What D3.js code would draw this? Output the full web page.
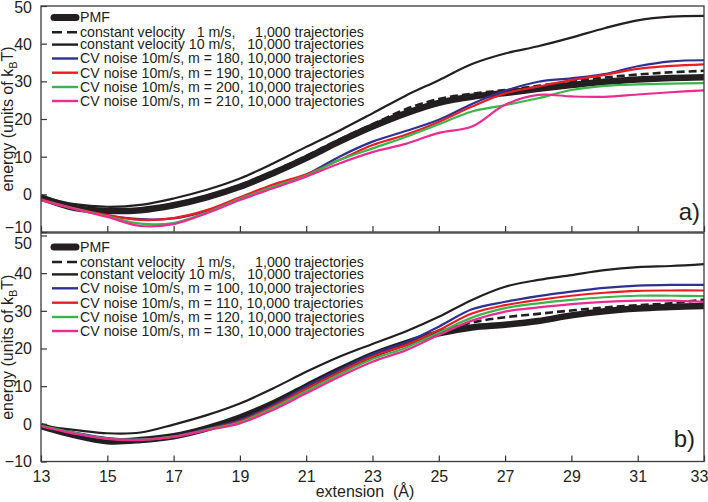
<!DOCTYPE html>
<html>
<head>
<meta charset="utf-8">
<script src="https://cdn.jsdelivr.net/npm/d3@7"></script>
<style>
  html, body { margin: 0; padding: 0; background: #fff; }
  svg { display: block; }
  text { font-family: "Liberation Sans", Arial, sans-serif; fill: #231f20; }
  .leg { white-space: pre; }
</style>
</head>
<body>
<svg id="chart" width="708" height="502"></svg>
<script>
// ---------------- data ----------------
const extension = [13,14,15,16,17,18,19,20,21,22,23,24,25,26,27,28,29,30,31,32,33];
const xTickValues = [13,15,17,19,21,23,25,27,29,31,33];
const yTickValues = [-10,0,10,20,30,40,50];

// panel a)
const pmfA     = [-0.8,-3.6,-4.4,-4.2,-2.9,-0.8,2.0,5.6,9.6,14.0,18.0,21.5,24.3,25.9,26.9,28.0,29.0,29.9,30.5,30.9,31.1];
const cv1A     = [-0.8,-3.4,-4.1,-3.9,-2.5,-0.4,2.5,6.1,10.2,14.6,18.6,22.6,25.3,26.7,27.7,28.8,30.0,31.0,31.8,32.4,32.8];
const cv10A    = [-0.6,-2.6,-3.3,-2.8,-1.1,1.2,4.2,8.2,12.6,16.9,21.5,26.2,30.3,34.6,37.4,39.3,41.6,44.1,46.2,47.2,47.4];
const noise180 = [-1.3,-3.7,-5.6,-6.6,-6.4,-4.4,-1.0,2.0,5.2,10.0,14.0,16.8,19.8,24.0,27.5,29.9,30.8,31.9,34.0,35.3,35.6];
const noise190 = [-1.3,-3.7,-5.5,-6.8,-6.3,-4.2,-0.8,2.6,5.3,9.1,13.1,15.8,19.2,23.3,26.8,28.6,30.3,31.7,33.3,34.1,34.5];
const noise200 = [-1.5,-3.8,-5.8,-7.8,-7.6,-4.8,-1.2,2.0,5.0,9.1,12.2,15.2,18.6,22.0,23.7,25.5,27.7,28.8,29.2,29.4,29.5];
const noise210 = [-1.6,-3.9,-6.0,-8.4,-7.9,-5.0,-1.5,1.6,4.7,8.2,11.2,13.4,16.3,18.0,23.8,26.4,26.0,25.9,26.5,27.1,27.6];

// panel b)
const pmfB     = [-0.6,-3.0,-4.6,-4.3,-3.3,-1.2,1.7,5.4,9.9,14.3,18.3,21.4,24.0,25.6,26.3,27.3,28.8,29.9,30.6,31.0,31.3];
const cv1B     = [-0.6,-2.8,-4.2,-4.0,-3.0,-0.9,1.9,5.6,10.1,14.5,18.5,21.6,24.4,26.9,28.3,29.2,30.1,30.9,31.5,32.0,33.0];
const cv10B    = [-0.6,-1.6,-2.5,-2.3,-0.2,2.3,5.4,9.4,13.8,17.8,21.2,24.5,28.4,32.9,36.4,38.2,39.5,40.8,41.6,41.9,42.4];
const noise100 = [-0.5,-2.3,-3.8,-4.1,-3.3,-1.3,1.0,5.0,9.9,14.3,18.5,21.6,25.8,30.4,32.4,33.9,35.1,36.1,36.7,36.9,36.9];
const noise110 = [-0.5,-2.4,-3.9,-4.2,-3.4,-1.5,0.7,4.6,9.3,13.7,17.9,20.9,24.9,29.3,31.5,32.9,34.0,34.8,35.3,35.4,35.4];
const noise120 = [-0.5,-2.4,-3.9,-4.2,-3.4,-1.6,0.4,4.2,8.7,13.1,17.2,20.2,24.2,28.2,30.7,32.0,32.9,33.6,34.0,34.0,33.9];
const noise130 = [-0.7,-2.6,-4.0,-4.3,-3.5,-1.7,0.1,3.7,8.1,12.5,16.5,19.5,23.6,27.4,29.8,30.9,31.8,32.4,32.7,32.7,32.4];

const legendA = ["PMF",
  "constant velocity   1 m/s,     1,000 trajectories",
  "constant velocity 10 m/s,   10,000 trajectories",
  "CV noise 10m/s, m = 180, 10,000 trajectories",
  "CV noise 10m/s, m = 190, 10,000 trajectories",
  "CV noise 10m/s, m = 200, 10,000 trajectories",
  "CV noise 10m/s, m = 210, 10,000 trajectories"];
const legendB = ["PMF",
  "constant velocity   1 m/s,     1,000 trajectories",
  "constant velocity 10 m/s,   10,000 trajectories",
  "CV noise 10m/s, m = 100, 10,000 trajectories",
  "CV noise 10m/s, m = 110, 10,000 trajectories",
  "CV noise 10m/s, m = 120, 10,000 trajectories",
  "CV noise 10m/s, m = 130, 10,000 trajectories"];

// ---------------- styles ----------------
const styles = [
  {color:"#231f20", width:6.5, dash:null},
  {color:"#231f20", width:2.6, dash:"8,4"},
  {color:"#231f20", width:2.2, dash:null},
  {color:"#2e3192", width:2.2, dash:null},
  {color:"#ed1c24", width:2.2, dash:null},
  {color:"#39b54a", width:2.2, dash:null},
  {color:"#ec2a90", width:2.2, dash:null}
];

const svg = d3.select("#chart");
const left = 41, right = 704;
const x = d3.scaleLinear().domain([13,33]).range([left,right]);

const panels = [
  {id:"a", series:[pmfA,cv1A,cv10A,noise180,noise190,noise200,noise210], legend:legendA,
   top:6, bottom:232, yr:[232,6], legY:[17.5,32.3,44.6,58.5,72.7,87,101],
   tag:"a)", tagX:700, tagY:220, labels:false, labelShift:{"-10":-5, "50":1}},
  {id:"b", series:[pmfB,cv1B,cv10B,noise100,noise110,noise120,noise130], legend:legendB,
   top:233, bottom:461.5, yr:[461.5,235.5], legY:[247,262,274.4,288.3,302.7,317,331],
   tag:"b)", tagX:695, tagY:447, labels:true, labelShift:{"50":8}}
];

panels.forEach(p => {
  const y = d3.scaleLinear().domain([-10,50]).range(p.yr);
  const g = svg.append("g");
  g.append("clipPath").attr("id","clip"+p.id)
    .append("rect").attr("x",left).attr("y",p.top).attr("width",right-left).attr("height",p.bottom-p.top);

  const line = d3.line().x((d,i)=>x(extension[i])).y(d=>y(d)).curve(d3.curveCatmullRom.alpha(0.5));
  const lg = g.append("g").attr("clip-path","url(#clip"+p.id+")");
  p.series.forEach((s,i) => {
    const st = styles[i];
    lg.append("path").datum(s).attr("d",line)
      .attr("fill","none").attr("stroke",st.color).attr("stroke-width",st.width)
      .attr("stroke-dasharray",st.dash).attr("stroke-linejoin","round");
  });

  // y axis ticks (inward) and labels
  const yAxis = d3.axisLeft(y).tickValues(yTickValues).tickSize(-6).tickPadding(9).tickFormat(d3.format("d"));
  const ya = g.append("g").attr("transform",`translate(${left},0)`).call(yAxis);
  ya.select(".domain").remove();
  ya.selectAll(".tick line").attr("stroke","#333").attr("stroke-width",1.2);
  ya.selectAll(".tick text").attr("font-size",16).attr("fill","#231f20")
    .attr("font-family","Liberation Sans, Arial, sans-serif")
    .attr("dy",d => (0.34*16 + (p.labelShift[String(d)]||0)) + "px");

  // x axis ticks (inward)
  const xAxis = d3.axisBottom(x).tickValues(xTickValues).tickSize(-6).tickPadding(9).tickFormat(d3.format("d"));
  const xa = g.append("g").attr("transform",`translate(0,${p.bottom})`).call(xAxis);
  xa.select(".domain").remove();
  xa.selectAll(".tick line").attr("stroke","#333").attr("stroke-width",1.2);
  xa.selectAll(".tick text").attr("font-size",16).attr("fill","#231f20")
    .attr("font-family","Liberation Sans, Arial, sans-serif")
    .attr("dx", d => d === 33 ? "-5px" : null)
    .style("display", p.labels ? null : "none");

  // frame
  g.append("rect").attr("x",left).attr("y",p.top).attr("width",right-left).attr("height",p.bottom-p.top)
    .attr("fill","none").attr("stroke","#3a3a3a").attr("stroke-width",1.3);

  // legend
  p.legend.forEach((t,i) => {
    const st = styles[i];
    const ly = p.legY[i];
    g.append("line").attr("x1", i===0?54:52).attr("x2", i===0?76:78).attr("y1",ly).attr("y2",ly)
      .attr("stroke",st.color).attr("stroke-width", i===0?7:(i===1?2.6:2.4))
      .attr("stroke-dasharray", i===1?"10,5":null)
      .attr("stroke-linecap", i===0?"round":"butt");
    g.append("text").attr("class","leg").attr("x",80).attr("y",ly+4.8)
      .attr("font-size",14.2).text(t);
  });

  // panel tag
  g.append("text").attr("x",p.tagX).attr("y",p.tagY).attr("text-anchor","end")
    .attr("font-size",24).text(p.tag);

  // y axis title
  const cy = (p.top + p.bottom)/2;
  const yt = g.append("text").attr("transform",`translate(13,${cy}) rotate(-90)`)
    .attr("text-anchor","middle").attr("font-size",16);
  yt.append("tspan").text("energy (units of k");
  yt.append("tspan").attr("dy",4).attr("font-size",11).text("B");
  yt.append("tspan").attr("dy",-4).text("T)");
});

svg.append("text").attr("class","leg").attr("x",365).attr("y",497).attr("text-anchor","middle")
  .attr("font-size",16).text("extension  (Å)");
</script>
</body>
</html>
